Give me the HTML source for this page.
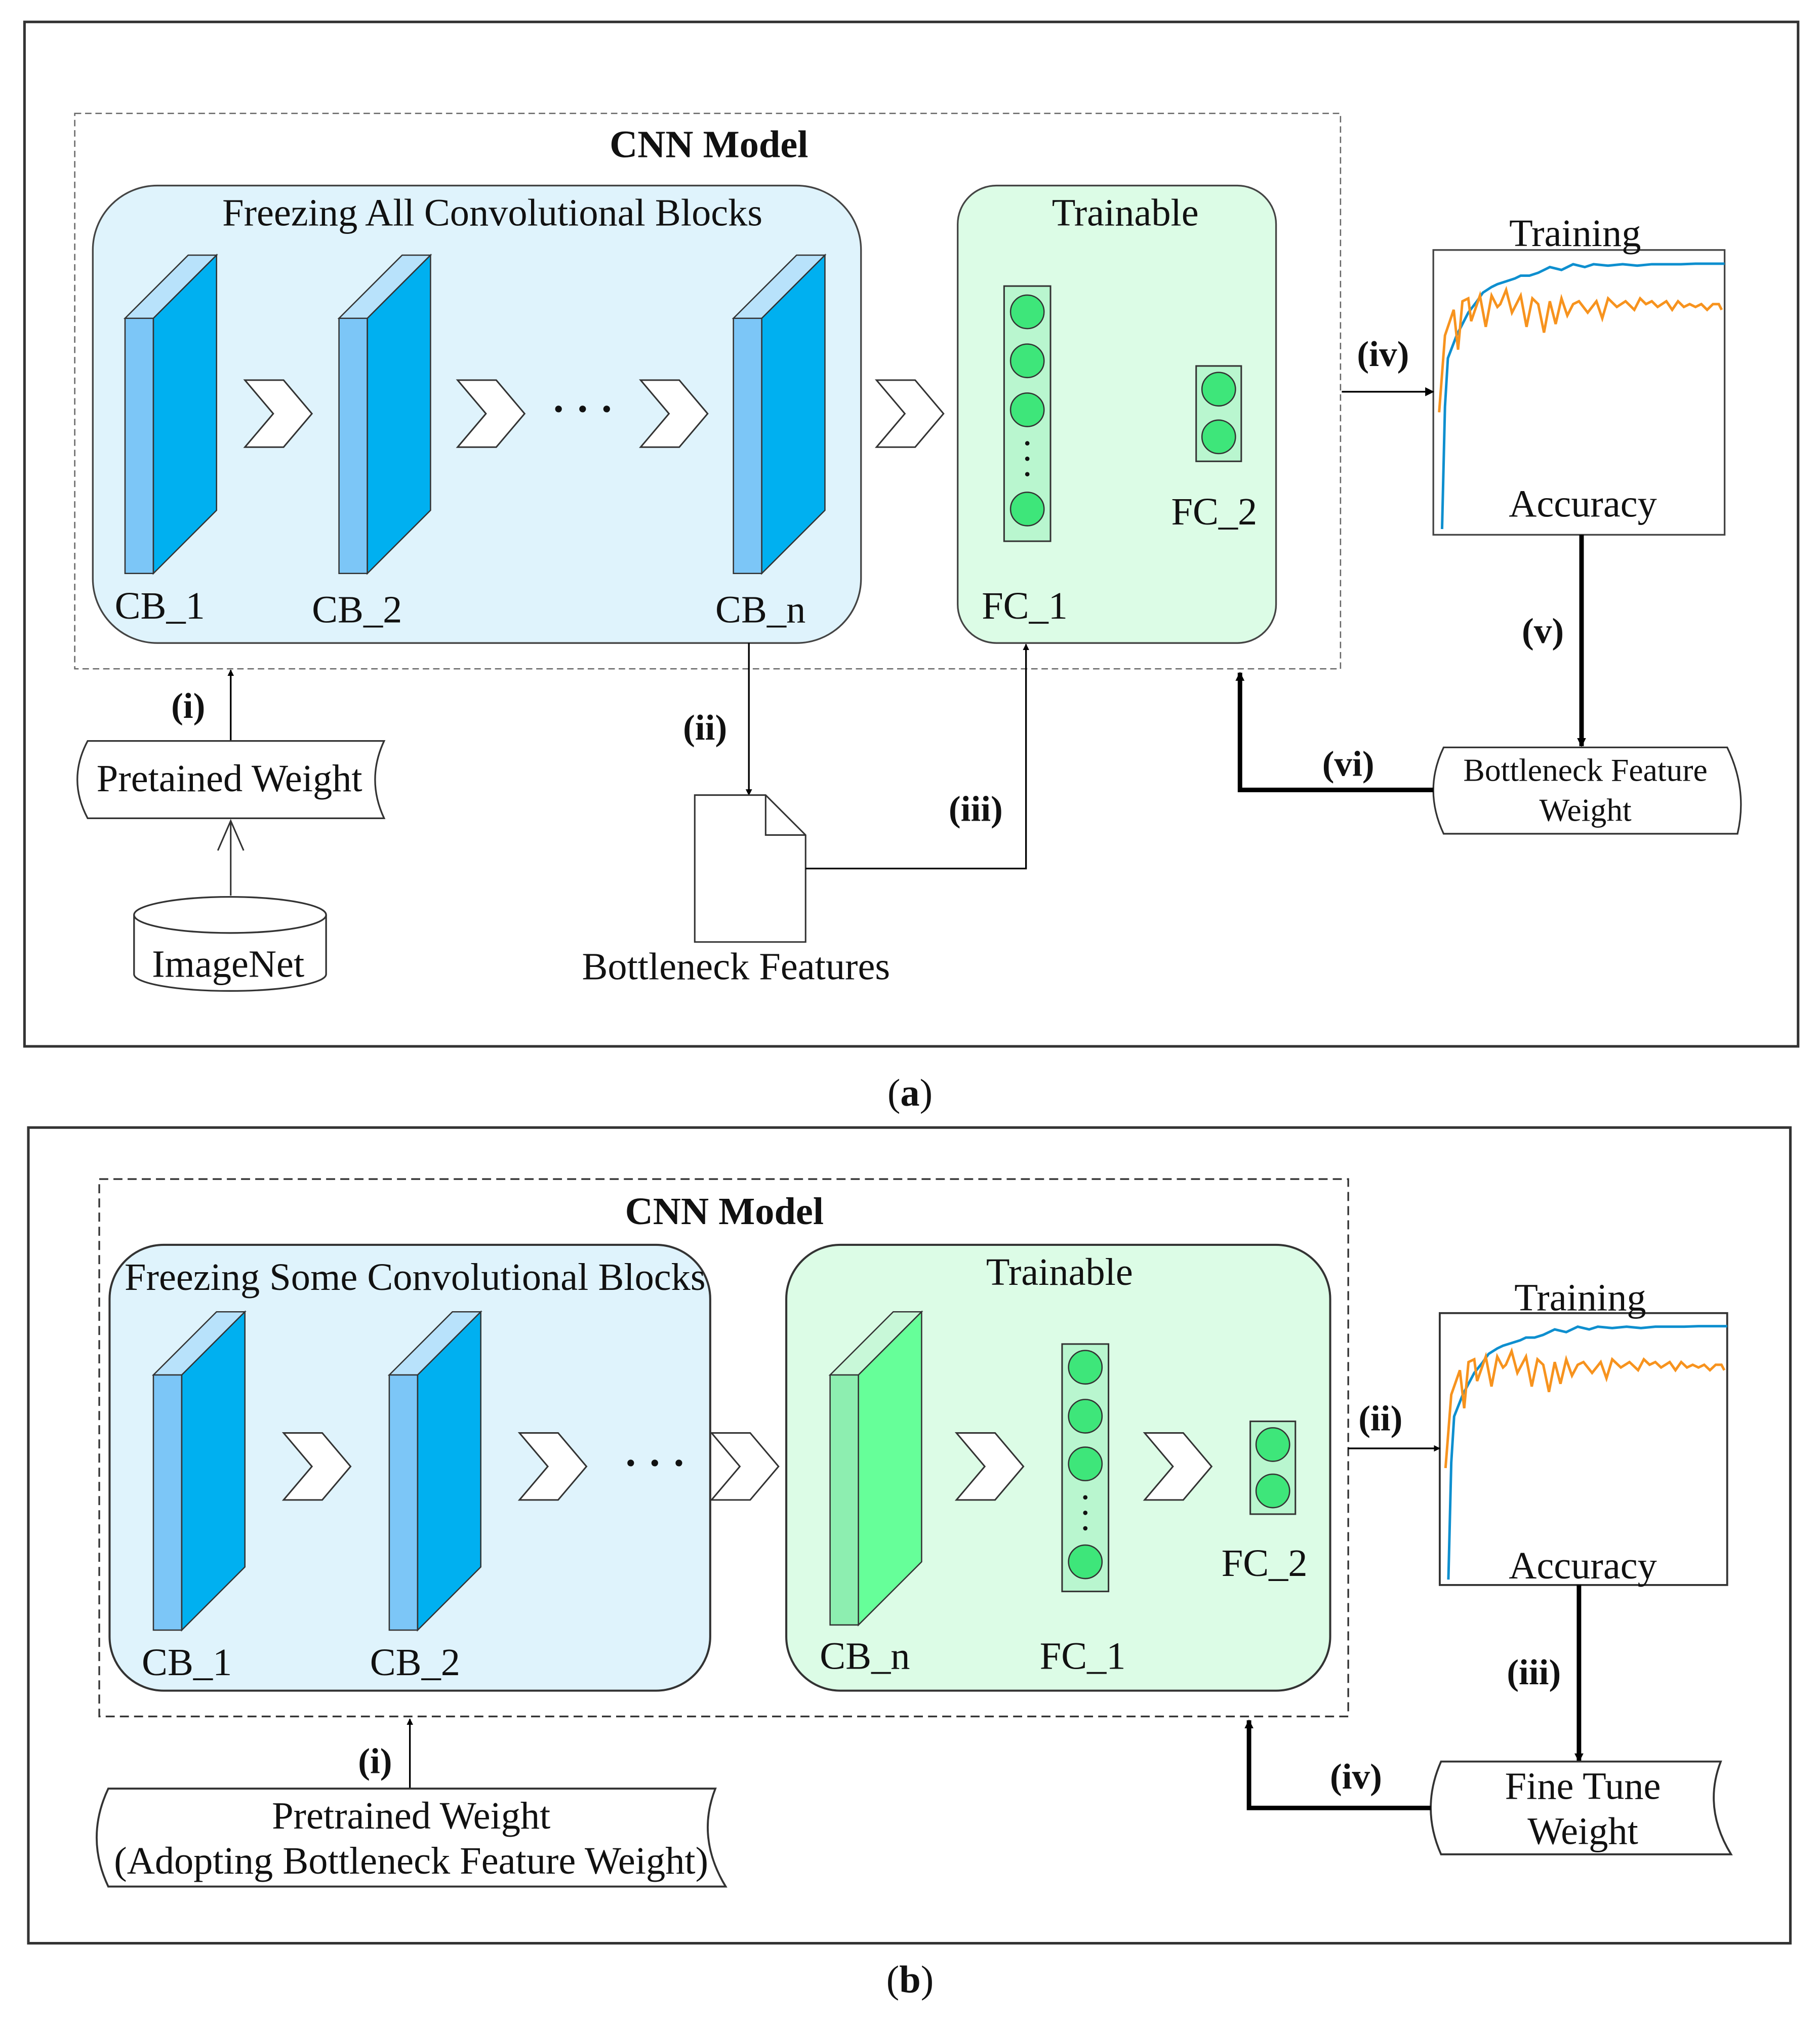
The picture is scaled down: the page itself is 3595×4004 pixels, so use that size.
<!DOCTYPE html>
<html><head><meta charset="utf-8"><style>html,body{margin:0;padding:0;background:#fff}svg{display:block}text{font-family:"Liberation Serif",serif;fill:#111}</style></head>
<body>
<svg width="3595" height="4004" viewBox="0 0 1412 1573" preserveAspectRatio="none" xmlns="http://www.w3.org/2000/svg">
<defs>
<marker id="ah" viewBox="0 0 10 10" refX="9" refY="5" markerWidth="5" markerHeight="5" orient="auto" markerUnits="userSpaceOnUse"><path d="M0,0 L10,5 L0,10 z" fill="#000"/></marker>
<marker id="ah2" viewBox="0 0 10 10" refX="9" refY="5" markerWidth="7" markerHeight="7" orient="auto" markerUnits="userSpaceOnUse"><path d="M0,0 L10,5 L0,10 z" fill="#000"/></marker>
<g id="blk"><polygon points="0,49 49,0 71,0 22,49" fill="#b8e2fb" stroke="#333" stroke-width="1"/><polygon points="0,49 22,49 22,247 0,247" fill="#7cc6f7" stroke="#333" stroke-width="1"/><polygon points="22,49 71,0 71,198 22,247" fill="#00b0f0" stroke="#333" stroke-width="1"/></g>
<g id="blkg"><polygon points="0,49 49,0 71,0 22,49" fill="#c8f8d8" stroke="#333" stroke-width="1"/><polygon points="0,49 22,49 22,243 0,243" fill="#8deeb0" stroke="#333" stroke-width="1"/><polygon points="22,49 71,0 71,194 22,243" fill="#66ff99" stroke="#333" stroke-width="1"/></g>
<polygon id="chev" points="0,0 30,0 52,26 30,52 0,52 22,26" fill="#fff" stroke="#333" stroke-width="1.2"/>
<g id="curves">
<polyline fill="none" stroke="#0e8fcf" stroke-width="5" vector-effect="non-scaling-stroke" points="3,98 4,55 5,38 8,30 12,22 15,18 17,15 20,13 22,12 25,11 28,10 30,9 33,9 36,8 40,6 44,7 48,5 52,6 55,5 60,5.5 65,5 70,5.5 75,5 80,5 85,5 90,4.8 100,4.8"/>
<polyline fill="none" stroke="#f7931e" stroke-width="5" vector-effect="non-scaling-stroke" points="2,57 4,30 7,21 8.5,35 10,18 12,17 13,25 16,16 18,27 20,16 22,20 23,19 25,14 27,22 30,16 32,27 34,17 36,19 38,29 40,18 42,26 44,17 46,23 48,19 50,18 53,22 56,18 58,24 60,17 63,20 66,18 69,21 71,17 73,19 75,18 77,20 80,18 82,21 84,18 86,20 88,19 90,20 92,19 94,21 96,19 98,19 99,21"/>
</g>
</defs>

<!-- ===== Panel A ===== -->
<rect x="19" y="17" width="1376" height="795" fill="none" stroke="#333" stroke-width="2"/>
<rect x="58" y="88" width="982" height="431" fill="none" stroke="#666" stroke-width="1" stroke-dasharray="5,3"/>
<text x="550" y="122" font-size="30" font-weight="bold" text-anchor="middle">CNN Model</text>
<rect x="72" y="144" width="596" height="355" rx="50" fill="#dff3fc" stroke="#444" stroke-width="1.3"/>
<text x="382" y="175" font-size="30" text-anchor="middle">Freezing All Convolutional Blocks</text>
<use href="#blk" x="97" y="198"/><use href="#blk" x="263" y="198"/><use href="#blk" x="569" y="198"/>
<use href="#chev" x="190" y="295"/><use href="#chev" x="355" y="295"/><use href="#chev" x="497" y="295"/><use href="#chev" x="680" y="295"/><use href="#chev" x="845" y="295"/>
<text x="452" y="328" font-size="32" text-anchor="middle" font-weight="bold">· · ·</text>
<text x="124" y="480" font-size="30" text-anchor="middle">CB_1</text>
<text x="277" y="483" font-size="30" text-anchor="middle">CB_2</text>
<text x="590" y="483" font-size="30" text-anchor="middle">CB_n</text>
<rect x="743" y="144" width="247" height="355" rx="30" fill="#dcfce6" stroke="#444" stroke-width="1.3"/>
<text x="873" y="175" font-size="30" text-anchor="middle">Trainable</text>
<rect x="779" y="222" width="36" height="198" fill="#4fe38a" fill-opacity="0.25" stroke="#333" stroke-width="1.2"/>
<g fill="#3ee67a" stroke="#333" stroke-width="1"><circle cx="797" cy="242" r="13"/><circle cx="797" cy="280" r="13"/><circle cx="797" cy="318" r="13"/><circle cx="797" cy="395" r="13"/></g>
<g fill="#111"><circle cx="797" cy="344" r="1.7"/><circle cx="797" cy="356" r="1.7"/><circle cx="797" cy="368" r="1.7"/></g>
<rect x="928" y="284" width="35" height="74" fill="#4fe38a" fill-opacity="0.25" stroke="#333" stroke-width="1.2"/>
<g fill="#3ee67a" stroke="#333" stroke-width="1"><circle cx="945.5" cy="302" r="13"/><circle cx="945.5" cy="339" r="13"/></g>
<text x="795" y="480" font-size="30" text-anchor="middle">FC_1</text>
<text x="942" y="407" font-size="30" text-anchor="middle">FC_2</text>
<!-- chart a -->
<rect x="1112" y="194" width="226" height="221" fill="#fff" stroke="#444" stroke-width="1.3"/>
<use href="#curves" transform="translate(1112,194) scale(2.26,2.21)"/>
<text x="1222" y="191" font-size="30" text-anchor="middle">Training</text>
<text x="1228" y="401" font-size="30" text-anchor="middle">Accuracy</text>
<line x1="1041" y1="304" x2="1112" y2="304" stroke="#000" stroke-width="1.3" marker-end="url(#ah2)"/>
<text x="1073" y="284" font-size="28" font-weight="bold" text-anchor="middle">(iv)</text>
<line x1="1227" y1="415" x2="1227" y2="579" stroke="#000" stroke-width="3.5" marker-end="url(#ah2)"/>
<text x="1197" y="499" font-size="28" font-weight="bold" text-anchor="middle">(v)</text>
<path d="M1120,580 L1340,580 Q1356,613 1348,647 L1120,647 Q1104,613 1120,580 z" fill="#fff" stroke="#333" stroke-width="1.3"/>
<text x="1230" y="606" font-size="25" text-anchor="middle">Bottleneck Feature</text>
<text x="1230" y="637" font-size="25" text-anchor="middle">Weight</text>
<polyline points="1112,613 962,613 962,522" fill="none" stroke="#000" stroke-width="3.5" marker-end="url(#ah2)"/>
<text x="1046" y="602" font-size="28" font-weight="bold" text-anchor="middle">(vi)</text>
<line x1="179" y1="575" x2="179" y2="520" stroke="#000" stroke-width="1.3" marker-end="url(#ah)"/>
<text x="146" y="557" font-size="28" font-weight="bold" text-anchor="middle">(i)</text>
<path d="M68,575 L298,575 Q284,605 298,635 L68,635 Q52,605 68,575 z" fill="#fff" stroke="#333" stroke-width="1.3"/>
<text x="178" y="614" font-size="30" text-anchor="middle">Pretained Weight</text>
<line x1="179" y1="695" x2="179" y2="637" stroke="#333" stroke-width="1.2"/>
<polyline points="169,660 179,637 189,660" fill="none" stroke="#333" stroke-width="1.2"/>
<path d="M104,710 L104,756 A74.5,13 0 0 0 253,756 L253,710" fill="#fff" stroke="#333" stroke-width="1.3"/>
<ellipse cx="178.5" cy="710" rx="74.5" ry="14" fill="#fff" stroke="#333" stroke-width="1.3"/>
<text x="177" y="758" font-size="30" text-anchor="middle">ImageNet</text>
<line x1="581" y1="499" x2="581" y2="617" stroke="#000" stroke-width="1.3" marker-end="url(#ah)"/>
<text x="547" y="574" font-size="28" font-weight="bold" text-anchor="middle">(ii)</text>
<path d="M539,617 L594,617 L625,648 L625,731 L539,731 z" fill="#fff" stroke="#333" stroke-width="1.2"/>
<path d="M594,617 L594,648 L625,648" fill="none" stroke="#333" stroke-width="1.2"/>
<polyline points="625,674 796,674 796,500" fill="none" stroke="#000" stroke-width="1.3" marker-end="url(#ah)"/>
<text x="757" y="637" font-size="28" font-weight="bold" text-anchor="middle">(iii)</text>
<text x="571" y="760" font-size="30" text-anchor="middle">Bottleneck  Features</text>
<text x="706" y="858" font-size="30" text-anchor="middle">(<tspan font-weight="bold">a</tspan>)</text>

<!-- ===== Panel B ===== -->
<rect x="22" y="875" width="1367" height="633" fill="none" stroke="#333" stroke-width="2"/>
<rect x="77" y="915" width="969" height="417" fill="none" stroke="#333" stroke-width="1.3" stroke-dasharray="7,4"/>
<text x="562" y="950" font-size="30" font-weight="bold" text-anchor="middle">CNN Model</text>
<rect x="85" y="966" width="466" height="346" rx="42" fill="#dff3fc" stroke="#333" stroke-width="1.6"/>
<text x="322" y="1001" font-size="30" text-anchor="middle">Freezing Some Convolutional Blocks</text>
<rect x="610" y="966" width="422" height="346" rx="42" fill="#dcfce6" stroke="#333" stroke-width="1.6"/>
<text x="822" y="997" font-size="30" text-anchor="middle">Trainable</text>
<use href="#blk" x="119" y="1018"/><use href="#blk" x="302" y="1018"/><use href="#blkg" x="644" y="1018"/>
<use href="#chev" x="220" y="1112"/><use href="#chev" x="403" y="1112"/><use href="#chev" x="552" y="1112"/><use href="#chev" x="742" y="1112"/><use href="#chev" x="888" y="1112"/>
<text x="508" y="1146" font-size="32" text-anchor="middle" font-weight="bold">· · ·</text>
<rect x="824" y="1043" width="36" height="192" fill="#4fe38a" fill-opacity="0.25" stroke="#333" stroke-width="1.2"/>
<g fill="#3ee67a" stroke="#333" stroke-width="1"><circle cx="842" cy="1061" r="13"/><circle cx="842" cy="1099" r="13"/><circle cx="842" cy="1136" r="13"/><circle cx="842" cy="1212" r="13"/></g>
<g fill="#111"><circle cx="842" cy="1162" r="1.7"/><circle cx="842" cy="1174" r="1.7"/><circle cx="842" cy="1186" r="1.7"/></g>
<rect x="970" y="1103" width="35" height="72" fill="#4fe38a" fill-opacity="0.25" stroke="#333" stroke-width="1.2"/>
<g fill="#3ee67a" stroke="#333" stroke-width="1"><circle cx="987.5" cy="1121" r="13"/><circle cx="987.5" cy="1157" r="13"/></g>
<text x="145" y="1300" font-size="30" text-anchor="middle">CB_1</text>
<text x="322" y="1300" font-size="30" text-anchor="middle">CB_2</text>
<text x="671" y="1295" font-size="30" text-anchor="middle">CB_n</text>
<text x="840" y="1295" font-size="30" text-anchor="middle">FC_1</text>
<text x="981" y="1223" font-size="30" text-anchor="middle">FC_2</text>
<rect x="1117" y="1019" width="223" height="211" fill="#fff" stroke="#333" stroke-width="1.5"/>
<use href="#curves" transform="translate(1117,1019) scale(2.23,2.11)"/>
<text x="1226" y="1017" font-size="30" text-anchor="middle">Training</text>
<text x="1228" y="1225" font-size="30" text-anchor="middle">Accuracy</text>
<line x1="1046" y1="1124" x2="1117" y2="1124" stroke="#000" stroke-width="1.3" marker-end="url(#ah)"/>
<text x="1071" y="1110" font-size="28" font-weight="bold" text-anchor="middle">(ii)</text>
<line x1="1225" y1="1230" x2="1225" y2="1367" stroke="#000" stroke-width="3.5" marker-end="url(#ah2)"/>
<text x="1190" y="1307" font-size="28" font-weight="bold" text-anchor="middle">(iii)</text>
<path d="M1118,1367 L1335,1367 Q1321,1403 1343,1439 L1118,1439 Q1102,1403 1118,1367 z" fill="#fff" stroke="#333" stroke-width="1.5"/>
<text x="1228" y="1396" font-size="30" text-anchor="middle">Fine Tune</text>
<text x="1228" y="1431" font-size="30" text-anchor="middle">Weight</text>
<polyline points="1110,1403 969,1403 969,1335" fill="none" stroke="#000" stroke-width="3.5" marker-end="url(#ah2)"/>
<text x="1052" y="1388" font-size="28" font-weight="bold" text-anchor="middle">(iv)</text>
<line x1="318" y1="1388" x2="318" y2="1334" stroke="#000" stroke-width="1.3" marker-end="url(#ah)"/>
<text x="291" y="1376" font-size="28" font-weight="bold" text-anchor="middle">(i)</text>
<path d="M84,1388 L555,1388 Q540,1426 563,1464 L84,1464 Q66,1426 84,1388 z" fill="#fff" stroke="#333" stroke-width="1.5"/>
<text x="319" y="1419" font-size="30" text-anchor="middle">Pretrained Weight</text>
<text x="319" y="1454" font-size="30" text-anchor="middle">(Adopting Bottleneck Feature Weight)</text>
<text x="706" y="1546" font-size="30" text-anchor="middle">(<tspan font-weight="bold">b</tspan>)</text>
</svg>
</body></html>
